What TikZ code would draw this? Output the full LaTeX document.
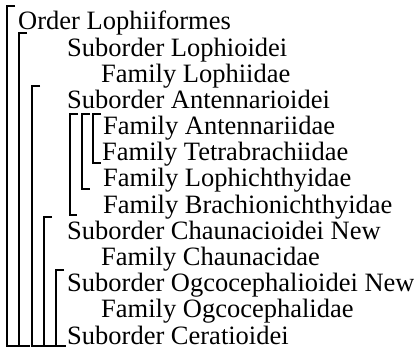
\documentclass[tikz,border=0pt]{standalone}
\usepackage{fontspec}
\setmainfont{Liberation Serif}
\begin{document}
\begin{tikzpicture}[x=1pt,y=-1pt,
  row/.style={anchor=base west,inner sep=0pt,font=\fontsize{26.5}{27}\selectfont},
  br/.style={line width=1.7pt,line cap=butt,line join=miter}]
\useasboundingbox[fill=white] (0,0) rectangle (414,352);
\node[row] (r1)  at (18,30)    {Order Lophiiformes};
\node[row] (r2)  at (67,56.2)  {Suborder Lophioidei};
\node[row] (r3)  at (101,82.3) {Family Lophiidae};
\node[row] (r4)  at (67,108.5) {Suborder Antennarioidei};
\node[row] (r5)  at (103,134.7){Family Antennariidae};
\node[row] (r6)  at (102,160.8){Family Tetrabrachiidae};
\node[row] (r7)  at (103,187)  {Family Lophichthyidae};
\node[row] (r8)  at (103,213.2){Family Brachionichthyidae};
\node[row] (r9)  at (67,239.3) {Suborder Chaunacioidei New};
\node[row] (r10) at (101,265.5){Family Chaunacidae};
\node[row] (r11) at (67,291.7) {Suborder Ogcocephalioidei New};
\node[row] (r12) at (101,317.8){Family Ogcocephalidae};
\node[row] (r13) at (67,344)   {Suborder Ceratioidei};
% main brackets
\draw[br] (15,6) -- (7,6) -- ([yshift=-2pt]7,0 |- r13.base) -- ++(11,0);
\draw[br] (27,33) -- (19,33) -- ([yshift=-2pt]19,0 |- r13.base) -- ++(11,0);
\draw[br] (40,86) -- (32,86) -- ([yshift=-2pt]32,0 |- r13.base) -- ++(11,0);
\draw[br] (52,217) -- (44,217) -- ([yshift=-2pt]44,0 |- r13.base) -- ++(11,0);
\draw[br] (64,270) -- (56,270) -- ([yshift=-2pt]56,0 |- r13.base) -- ++(10,0);
% Antennarioidei family brackets
\draw[br] (78,114) -- (70,114) -- ([yshift=-2pt]70,0 |- r8.base) -- ++(7,0);
\draw[br] (90,114) -- (82,114) -- ([yshift=-2pt]82,0 |- r7.base) -- ++(8,0);
\draw[br] (101,114) -- (93,114) -- ([yshift=-2pt]93,0 |- r6.base) -- ++(8,0);
\end{tikzpicture}
\end{document}
